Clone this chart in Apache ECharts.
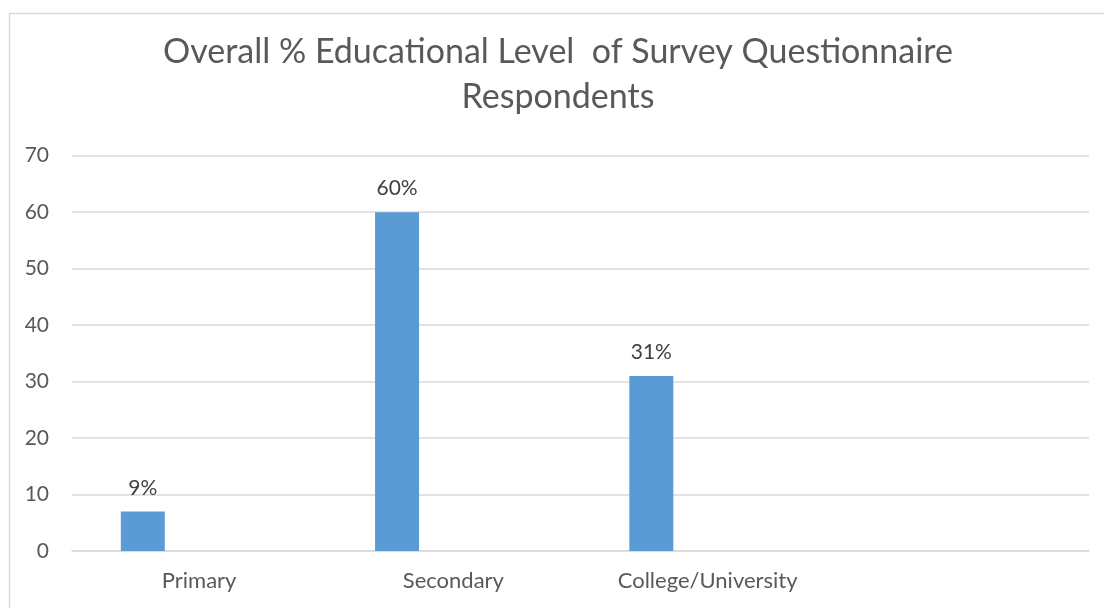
<!DOCTYPE html>
<html>
<head>
<meta charset="utf-8">
<script src="https://cdn.jsdelivr.net/npm/echarts@6/dist/echarts.min.js"></script>
<style>
html,body{margin:0;padding:0;background:#fff;}
#chart{width:1104px;height:608px;}
</style>
</head>
<body>
<div id="chart"></div>
<script>
const categories = ['Primary', 'Secondary', 'College/University', ''];
const values = [7, 60, 31, null];
const valueLabels = ['9%', '60%', '31%', ''];
const emptySeries = [null, null, null, null];
const yTicks = [0, 10, 20, 30, 40, 50, 60, 70];

const FONT = 'Lato, "Open Sans", sans-serif';
const TEXT = '#595959';
const chart = echarts.init(document.getElementById('chart'));
chart.setOption({
  backgroundColor: '#fff',
  animation: false,
  graphic: [{
    type: 'rect', left: 7, top: 11, silent: true,
    shape: { width: 1200, height: 700 },
    style: { fill: 'none', stroke: '#d9d9d9', lineWidth: 1.5 }
  }],
  title: {
    text: 'Overall % Educational Level  of Survey Questionnaire\nRespondents',
    left: 553, textAlign: 'center', top: 25,
    textStyle: { fontFamily: FONT, fontSize: 34, fontWeight: 'normal', color: TEXT, lineHeight: 45 }
  },
  grid: { left: 72, right: 15, top: 155.7, bottom: 57, containLabel: false },
  xAxis: {
    type: 'category', data: categories,
    axisLine: { show: true, lineStyle: { color: '#d9d9d9', width: 1.5 } },
    axisTick: { show: false },
    axisLabel: { fontFamily: FONT, fontSize: 22, color: TEXT, margin: 19 }
  },
  yAxis: {
    type: 'value', min: yTicks[0], max: yTicks[yTicks.length - 1], interval: 10,
    axisLine: { show: false }, axisTick: { show: false },
    axisLabel: { fontFamily: FONT, fontSize: 21, color: TEXT, margin: 23 },
    splitLine: { lineStyle: { color: '#d9d9d9', width: 1.5 } }
  },
  series: [{
    type: 'bar', data: values, barWidth: 44, barGap: '156%',
    itemStyle: { color: '#5b9bd5' },
    label: {
      show: true, position: 'top', distance: 13,
      fontFamily: FONT, fontSize: 21, color: '#404040',
      formatter: p => valueLabels[p.dataIndex]
    }
  }, {
    type: 'bar', data: emptySeries, barWidth: 44,
    itemStyle: { color: '#ed7d31' }
  }]
});
</script>
</body>
</html>
